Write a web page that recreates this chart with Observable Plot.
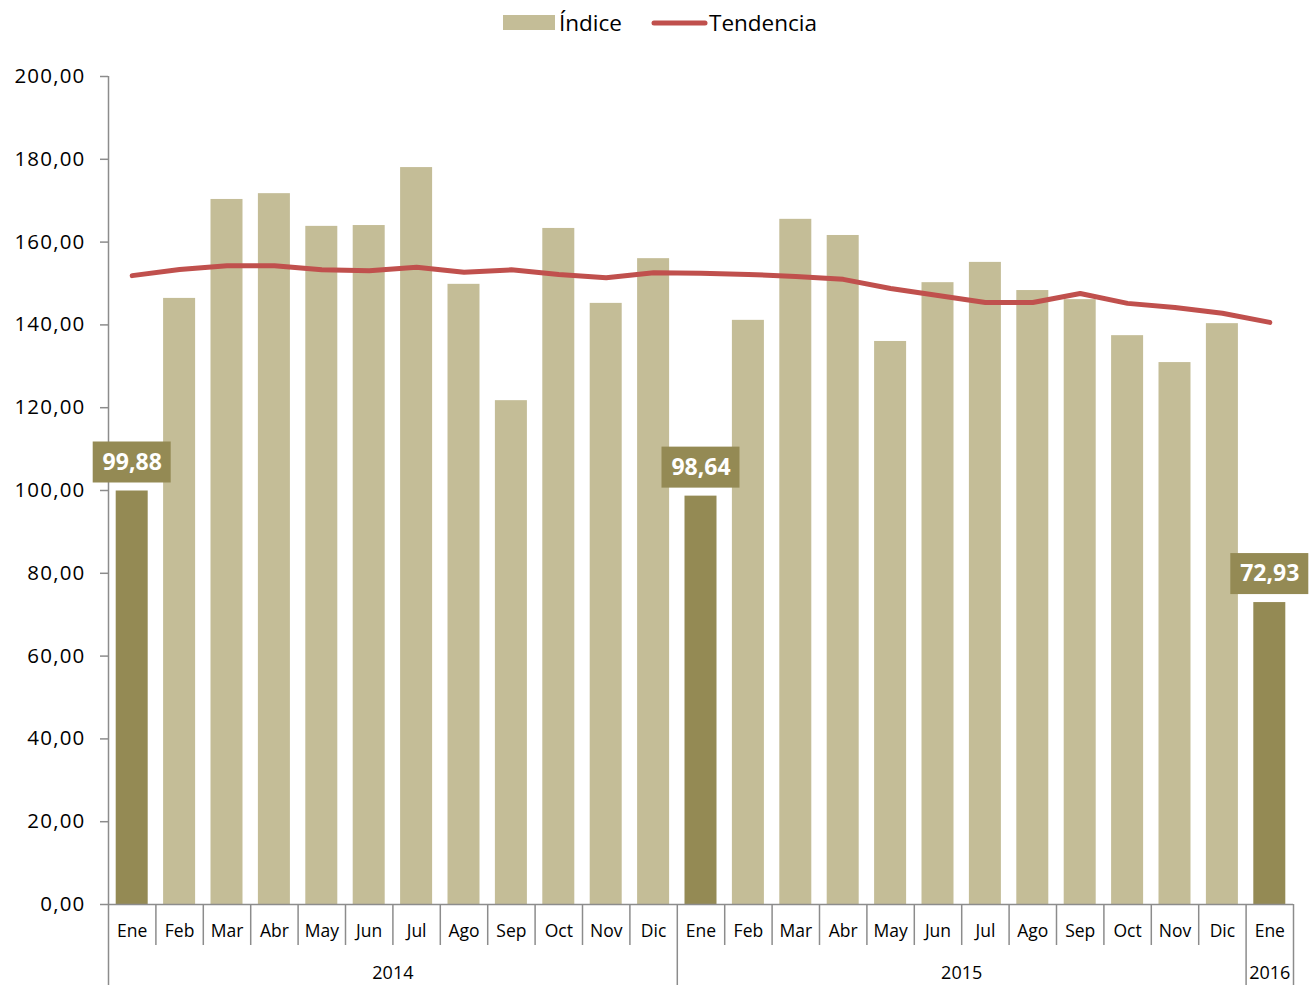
<!DOCTYPE html>
<html>
<head>
<meta charset="utf-8">
<script src="https://cdn.jsdelivr.net/npm/d3@7"></script>
<script src="https://cdn.jsdelivr.net/npm/@observablehq/plot@0.6"></script>
<style>
  body { margin: 0; background: #ffffff; font-family: "Open Sans", sans-serif; }
  #legend svg, #chart svg { display: block; }
  #chart svg g[aria-label="y-axis tick label"] text { letter-spacing: 1.2px; }
</style>
</head>
<body>
<div id="legend"></div>
<div id="chart"></div>
<script>
// ---- data ----
const months = ["Ene","Feb","Mar","Abr","May","Jun","Jul","Ago","Sep","Oct","Nov","Dic",
                "Ene","Feb","Mar","Abr","May","Jun","Jul","Ago","Sep","Oct","Nov","Dic",
                "Ene"];
const years = ["2014", "2015", "2016"];
const monthsPerYear = [12, 12, 1];
const indice = [99.88, 146.4, 170.3, 171.7, 163.8, 164.0, 178.0, 149.8, 121.7, 163.3, 145.2, 156.0,
                98.64, 141.1, 165.5, 161.6, 136.0, 150.2, 155.1, 148.3, 146.1, 137.4, 130.9, 140.3,
                72.93];
const tendencia = [151.9, 153.4, 154.3, 154.3, 153.3, 153.1, 153.9, 152.7, 153.3, 152.2, 151.4, 152.6,
                   152.5, 152.2, 151.7, 151.0, 148.8, 147.1, 145.4, 145.4, 147.6, 145.2, 144.2, 142.8,
                   140.6];
const yTicks = [0, 20, 40, 60, 80, 100, 120, 140, 160, 180, 200];
const highlightMonth = "Ene";
const seriesNames = ["Índice", "Tendencia"];

// ---- styles ----
const LIGHT = "#C4BD97";
const DARK = "#948A54";
const RED = "#C0504D";
const GRAY = "#8c8c8c";
const fmt = v => v.toFixed(2).replace(".", ",");

const data = months.map((m, i) => ({i, month: m, v: indice[i], t: tendencia[i], hl: m === highlightMonth}));
const hlData = data.filter(d => d.hl);

// year groups
let acc = 0;
const yearGroups = years.map((y, k) => { const g = {year: y, start: acc, end: acc + monthsPerYear[k]}; acc += monthsPerYear[k]; return g; });
const yearBounds = [0, ...yearGroups.map(g => g.end)];
const monthBounds = d3.range(1, months.length).filter(b => !yearBounds.includes(b));

// ---- legend ----
const leg = d3.select("#legend").append("svg").attr("width", 1310).attr("height", 45);
leg.append("rect").attr("x", 503).attr("y", 15).attr("width", 52).attr("height", 15).attr("fill", LIGHT);
leg.append("text").attr("x", 559).attr("y", 23).attr("dy", "0.35em").attr("font-size", 22.5)
   .attr("font-family", "Open Sans").text(seriesNames[0]);
leg.append("line").attr("x1", 654).attr("x2", 705).attr("y1", 23).attr("y2", 23)
   .attr("stroke", RED).attr("stroke-width", 5).attr("stroke-linecap", "round");
leg.append("text").attr("x", 709).attr("y", 23).attr("dy", "0.35em").attr("font-size", 22.5)
   .attr("font-family", "Open Sans").text(seriesNames[1]);

// ---- chart ----
const chart = Plot.plot({
  width: 1310,
  height: 940,
  marginTop: 31,
  marginBottom: 81,
  marginLeft: 108,
  marginRight: 17,
  style: {fontFamily: "Open Sans, sans-serif", fontSize: "20px", color: "#000", background: "#fff"},
  x: {type: "linear", domain: [0, months.length], axis: null},
  y: {domain: [0, 200], axis: null},
  marks: [
    Plot.rectY(data, {x1: d => d.i, x2: d => d.i + 1, y: "v", insetLeft: 7.7, insetRight: 7.7,
                      fill: d => d.hl ? DARK : LIGHT}),
    Plot.line(data, {x: d => d.i + 0.5, y: "t", stroke: RED, strokeWidth: 5,
                     strokeLinecap: "round", strokeLinejoin: "round"}),
    // y axis
    Plot.axisY({ticks: yTicks, tickSize: 8, tickPadding: 15, tickFormat: fmt, fontSize: 20.5,
                stroke: GRAY, strokeWidth: 1.5, fill: "#000", label: null}),
    Plot.ruleX([0], {x: d => d, y1: () => 200, y2: () => 0, insetBottom: -81, stroke: GRAY, strokeWidth: 1.5}),
    Plot.ruleY([0], {y: d => d, stroke: GRAY, strokeWidth: 1.5}),
    // category separators
    Plot.ruleX(monthBounds, {x: d => d, y1: () => 0, y2: () => 0, insetBottom: -41, stroke: GRAY, strokeWidth: 1.5}),
    Plot.ruleX(yearBounds.slice(1), {x: d => d, y1: () => 0, y2: () => 0, insetBottom: -81, stroke: GRAY, strokeWidth: 1.5}),
    // category labels
    Plot.text(data, {x: d => d.i + 0.5, y: () => 0, dy: 27, text: "month", fontSize: 17.5, fill: "#000"}),
    Plot.text(yearGroups, {x: d => (d.start + d.end) / 2, y: () => 0, dy: 69, text: "year", fontSize: 18, fill: "#000"}),
    // data label boxes (drawn on top)
    Plot.rect(hlData, {x1: d => d.i, x2: d => d.i + 1, y1: "v", y2: "v",
                       insetLeft: -15.3, insetRight: -15.3, insetTop: -49, insetBottom: 8, fill: DARK}),
    Plot.text(hlData, {x: d => d.i + 0.5, y: "v", dy: -28.5, text: d => fmt(d.v),
                       fill: "#fff", fontWeight: "bold", fontSize: 23})
  ]
});
document.getElementById("chart").appendChild(chart);
</script>
</body>
</html>
